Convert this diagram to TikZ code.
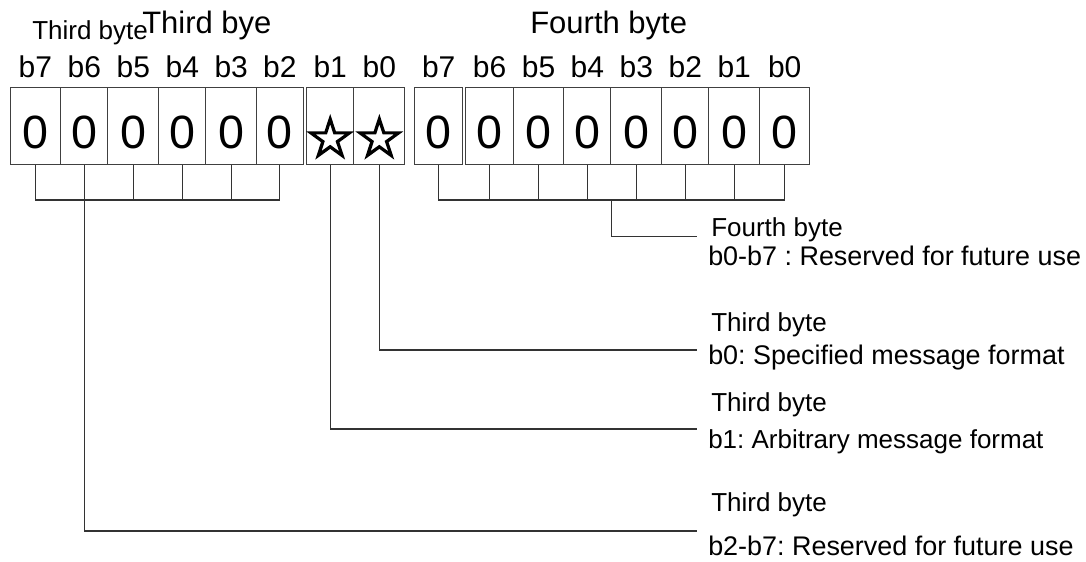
\documentclass[tikz,border=0pt]{standalone}
\usepackage{fontspec}
\setmainfont{Liberation Sans}
\newfontfamily\symfont[FakeBold=3]{DejaVu Sans}
\usetikzlibrary{calc}
\frenchspacing
\tikzset{
  cell/.style={draw=black!75, line width=0.8pt, inner sep=0pt, minimum height=57.75pt},
  conn/.style={draw=black!80, line width=0.8pt},
  digit/.style={font=\fontsize{35}{35}\selectfont, inner sep=0pt, anchor=base},
  starsym/.style={font=\symfont\fontsize{42}{42}\selectfont, inner sep=0pt},
  bitlbl/.style={font=\fontsize{22.5}{23}\selectfont, inner sep=0pt, anchor=base},
  head/.style={font=\fontsize{23.25}{24}\selectfont, inner sep=0pt, anchor=base west},
  note/.style={font=\fontsize{19.5}{20}\selectfont, inner sep=0pt, anchor=base west},
  notewide/.style={font=\fontsize{20.2}{21}\selectfont, inner sep=0pt, anchor=base west},
}
\newcommand\mkcell[3]{\node[cell, minimum width={(#3-#2)*0.75}, anchor=north west] (#1) at (#2,87) {};}
\begin{document}
\begin{tikzpicture}[x=0.75pt, y=-0.75pt]
\useasboundingbox (0,0) rectangle (1086,561);
% cells, third byte
\mkcell{t7}{9.5}{60.3}
\mkcell{t6}{60.3}{107.3}
\mkcell{t5}{107.3}{158.3}
\mkcell{t4}{158.3}{205.3}
\mkcell{t3}{205.3}{256}
\mkcell{t2}{256}{302.7}
\mkcell{t1}{306}{353.3}
\mkcell{t0}{353.3}{404.3}
% cells, fourth byte
\mkcell{f7}{414.3}{462}
\mkcell{f6}{465.3}{512.7}
\mkcell{f5}{512.7}{563.3}
\mkcell{f4}{563.3}{610.3}
\mkcell{f3}{610.3}{661.3}
\mkcell{f2}{661.3}{708.3}
\mkcell{f1}{708.3}{759}
\mkcell{f0}{759}{809.3}
% contents
\foreach \c in {t7,t6,t5,t4,t3,t2,f7,f6,f5,f4,f3,f2,f1,f0}
  \node[digit] (d\c) at ($(\c.south)+(0,-17)$) {0};
\node[starsym] (st1) at ($(t1.center)+(0,11)$) {☆};
\node[starsym] (st0) at ($(t0.center)+(0,11)$) {☆};
% bit labels
\coordinate (ylab) at (0,77);
\foreach \c/\l in {t7/b7,t6/b6,t5/b5,t4/b4,t3/b3,t2/b2,t1/b1,t0/b0,f7/b7,f6/b6,f5/b5,f4/b4,f3/b3,f2/b2,f1/b1,f0/b0}
  \node[bitlbl] (l\c) at (\c.north |- ylab) {\l};
% headings
\node[note] (hsmall) at (32,39) {Third byte};
\node[head] (hthird) at (142,33) {Third bye};
\node[head] (hfourth) at (530,33) {Fourth byte};
% brackets
\coordinate (ybr) at (0,200);
\draw[conn] (t7.south) -- (t7.south |- ybr) -- (t2.south |- ybr) -- (t2.south);
\foreach \c in {t6,t5,t4,t3} \draw[conn] (\c.south) -- (\c.south |- ybr);
\draw[conn] (f7.south) -- (f7.south |- ybr) -- (f0.south |- ybr) -- (f0.south);
\foreach \c in {f6,f5,f4,f3,f2,f1} \draw[conn] (\c.south) -- (\c.south |- ybr);
% connector ends
\coordinate (e4) at (696.7,236.7);
\coordinate (e0) at (697,350);
\coordinate (e1) at (697,429);
\coordinate (e27) at (697,531);
\draw[conn] (f4.south east |- ybr) |- (e4);
\draw[conn] (t0.south) |- (e0);
\draw[conn] (t1.south) |- (e1);
\draw[conn] (t6.south |- ybr) |- (e27);
% right labels
\node[note] (n4a) at (711,236) {Fourth byte};
\node[notewide] (n4b) at (708,265.7) {b0-b7 : Reserved for future use};
\node[note] (n0a) at (711,331) {Third byte};
\node[notewide] (n0b) at (708,364) {b0: Specified message format};
\node[note] (n1a) at (711,411.7) {Third byte};
\node[note] (n1b) at (708,448) {b1: Arbitrary message format};
\node[note] (n27a) at (711,511.7) {Third byte};
\node[notewide] (n27b) at (708,555) {b2-b7: Reserved for future use};
\end{tikzpicture}
\end{document}
